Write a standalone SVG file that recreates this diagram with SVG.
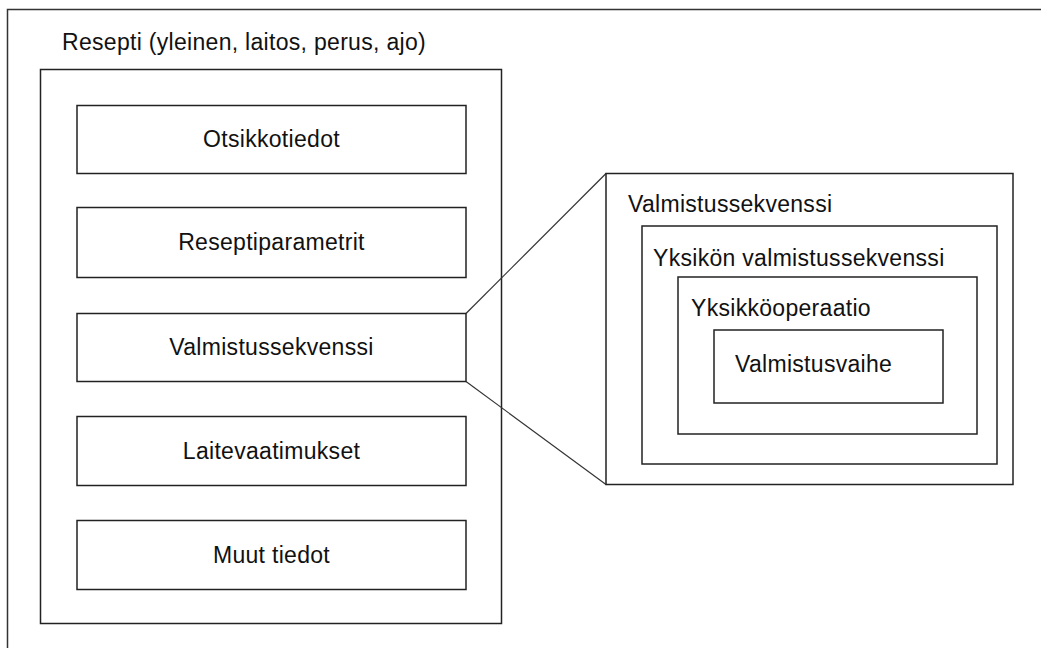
<svg xmlns="http://www.w3.org/2000/svg" width="1041" height="648" viewBox="0 0 1041 648">
<style>
.b{fill:#fff;stroke:#222;stroke-width:1.5}
.t{font-family:"Liberation Sans",Arial,sans-serif;font-size:23px;letter-spacing:0.3px;fill:#111}
.c{text-anchor:middle}
.l{fill:none;stroke:#333;stroke-width:1.2}
</style>
<rect width="1041" height="648" fill="#fff"/>
<g id="frame"><path class="l" d="M7.5,660 V9.5 H1060" style="stroke:#333;stroke-width:1.5"/></g>
<g id="recipe">
<rect class="b" x="40.5" y="69.5" width="461" height="554"/>
<text class="t" x="62" y="50">Resepti (yleinen, laitos, perus, ajo)</text>
</g>
<g id="otsikkotiedot"><rect class="b" x="77" y="105.5" width="389" height="68"/><text class="t c" x="271.5" y="147">Otsikkotiedot</text></g>
<g id="reseptiparametrit"><rect class="b" x="77" y="207.5" width="389" height="70"/><text class="t c" x="271.5" y="250">Reseptiparametrit</text></g>
<g id="valmistussekvenssi"><rect class="b" x="77" y="313.5" width="389" height="68"/><text class="t c" x="271.5" y="355">Valmistussekvenssi</text></g>
<g id="laitevaatimukset"><rect class="b" x="77" y="416.5" width="389" height="69"/><text class="t c" x="271.5" y="458.5">Laitevaatimukset</text></g>
<g id="muut"><rect class="b" x="77" y="520.5" width="389" height="69"/><text class="t c" x="271.5" y="562.5">Muut tiedot</text></g>
<g id="connectors">
<line class="l" x1="466" y1="313.5" x2="606" y2="173.5"/>
<line class="l" x1="466" y1="381.5" x2="606" y2="484.5"/>
</g>
<g id="detail-sequence">
<rect class="b" x="606" y="173.5" width="407" height="311"/>
<text class="t" x="628" y="212">Valmistussekvenssi</text>
</g>
<g id="unit-sequence">
<rect class="b" x="642" y="226" width="355" height="238"/>
<text class="t" x="653" y="266">Yksikön valmistussekvenssi</text>
</g>
<g id="unit-operation">
<rect class="b" x="678" y="277" width="299" height="157"/>
<text class="t" x="691" y="316">Yksikköoperaatio</text>
</g>
<g id="phase">
<rect class="b" x="714" y="330" width="229" height="73"/>
<text class="t" x="735" y="372">Valmistusvaihe</text>
</g>
</svg>
